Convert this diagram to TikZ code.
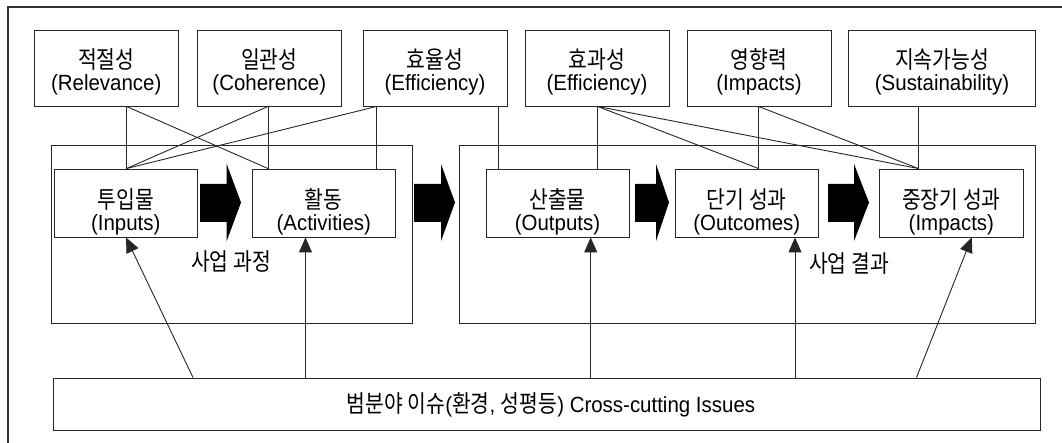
\documentclass[tikz,border=0pt]{standalone}
\usepackage{fontspec}
\setmainfont{Liberation Sans}[FakeStretch=0.93]
\newfontfamily\krfont{Noto Sans CJK KR}[FakeStretch=0.85]
\newcommand\ko[1]{{\krfont\fontsize{24}{27.5}\selectfont #1}}
\usetikzlibrary{arrows.meta}
\tikzset{
  box/.style={draw=black!85, line width=0.9pt, rectangle, inner sep=0pt},
  lbl/.style={align=center, font=\fontsize{22}{27.5}\selectfont, inner sep=0pt},
  link/.style={draw=black!85, line width=0.9pt},
  up/.style={link, -{Triangle[length=15pt,width=13pt]}},
  frame/.style={draw=black!80, line width=1.8pt},
  blk/.style={fill=black}
}
\newcommand\blockarrow[3]{\fill[blk] (#1,184) -- (#2,184) -- (#2,164) -- (#3,202.5) -- (#2,241) -- (#2,222) -- (#1,222) -- cycle;}
\begin{document}
\begin{tikzpicture}[x=1pt,y=-1pt]
\useasboundingbox (0,0) rectangle (1062,443);
\draw[frame] (1062,7) -- (8,7) -- (8,443);

% top criteria boxes
\node[box, minimum width=143.5, minimum height=76] (b1) at (106.25,68) {};
\node[box, minimum width=143.5, minimum height=76] (b2) at (269.3,68) {};
\node[box, minimum width=144, minimum height=76] (b3) at (435,68) {};
\node[box, minimum width=144, minimum height=76] (b4) at (597,68) {};
\node[box, minimum width=144, minimum height=76] (b5) at (759,68) {};
\node[box, minimum width=187, minimum height=76] (b6) at (942,68) {};
\node[lbl] (t1) at ([yshift=-4pt]b1.center) {\ko{적절성}\\[-5.5pt](Relevance)};
\node[lbl] (t2) at ([yshift=-4pt]b2.center) {\ko{일관성}\\[-5.5pt](Coherence)};
\node[lbl] (t3) at ([yshift=-4pt]b3.center) {\ko{효율성}\\[-5.5pt](Efficiency)};
\node[lbl] (t4) at ([yshift=-4pt]b4.center) {\ko{효과성}\\[-5.5pt](Efficiency)};
\node[lbl] (t5) at ([yshift=-4pt]b5.center) {\ko{영향력}\\[-5.5pt](Impacts)};
\node[lbl] (t6) at ([yshift=-4pt]b6.center) {\ko{지속가능성}\\[-5.5pt](Sustainability)};

% group frames
\node[box, minimum width=361, minimum height=178.5] (g1) at (231.5,234.25) {};
\node[box, minimum width=576.5, minimum height=178.5] (g2) at (747.25,234.25) {};

% stage boxes
\node[box, minimum width=143.6, minimum height=68] (in) at (125.8,203) {};
\node[box, minimum width=143.5, minimum height=68] (ac) at (323.75,203) {};
\node[box, minimum width=143, minimum height=68] (ou) at (557.5,203) {};
\node[box, minimum width=143.6, minimum height=68] (oc) at (746.8,203) {};
\node[box, minimum width=143.3, minimum height=68] (im) at (951.35,203) {};
\node[lbl] (s1) at ([yshift=-9pt]in.center) {\ko{투입물}\\[-5.5pt](Inputs)};
\node[lbl] (s2) at ([yshift=-9pt]ac.center) {\ko{활동}\\[-5.5pt](Activities)};
\node[lbl] (s3) at ([yshift=-9pt]ou.center) {\ko{산출물}\\[-5.5pt](Outputs)};
\node[lbl] (s4) at ([yshift=-9pt]oc.center) {\ko{단기 성과}\\[-5.5pt](Outcomes)};
\node[lbl] (s5) at ([yshift=-9pt]im.center) {\ko{중장기 성과}\\[-5.5pt](Impacts)};

% block arrows
\blockarrow{200}{226.7}{241}
\blockarrow{414}{441}{455}
\blockarrow{635}{656}{669}
\blockarrow{828}{854}{869}

\node[lbl] (p1) at (231,262) {\ko{사업 과정}};
\node[lbl] (p2) at (849,264) {\ko{사업 결과}};

% cross-cutting box
\node[box, minimum width=986.6, minimum height=52] (cc) at (546.7,404) {};
\node[lbl] (ct) at (551,405) {\ko{범분야 이슈}(\ko{환경}, \ko{성평등}) Cross-cutting Issues};

% x positions of connector ends
\coordinate (xa) at (126.5,0);
\coordinate (xb) at (268,0);
\coordinate (xc) at (376.5,0);
\coordinate (xd) at (498,0);
\coordinate (xe) at (597.6,0);
\coordinate (xf) at (758.5,0);
\coordinate (xg) at (918.5,0);

% criteria links
\draw[link] (b1.south -| xa) -- (in.north -| xa);
\draw[link] (b1.south -| xa) -- (ac.north -| xb);
\draw[link] (b2.south -| xb) -- (in.north -| xa);
\draw[link] (b2.south -| xb) -- (ac.north -| xb);
\draw[link] (b3.south -| xc) -- (in.north -| xa);
\draw[link] (b3.south -| xc) -- (ac.north -| xc);
\draw[link] (b3.south -| xd) -- (ou.north -| xd);
\draw[link] (b4.south -| xe) -- (ou.north -| xe);
\draw[link] (b4.south -| xe) -- (oc.north -| xf);
\draw[link] (b4.south -| xe) -- (im.north -| xg);
\draw[link] (b5.south -| xf) -- (oc.north -| xf);
\draw[link] (b5.south -| xf) -- (im.north -| xg);
\draw[link] (b6.south -| xg) -- (im.north -| xg);

% cross-cutting arrows
\coordinate (c1) at (193,0);
\coordinate (c2) at (126,0);
\coordinate (c3) at (305.5,0);
\coordinate (c4) at (590.7,0);
\coordinate (c5) at (795,0);
\coordinate (c6) at (916.5,0);
\coordinate (c7) at (971.7,0);
\draw[up] (cc.north -| c1) -- (in.south -| c2);
\draw[up] (cc.north -| c3) -- (ac.south -| c3);
\draw[up] (cc.north -| c4) -- (ou.south -| c4);
\draw[up] (cc.north -| c5) -- (oc.south -| c5);
\draw[up] (cc.north -| c6) -- (im.south -| c7);
\end{tikzpicture}
\end{document}
